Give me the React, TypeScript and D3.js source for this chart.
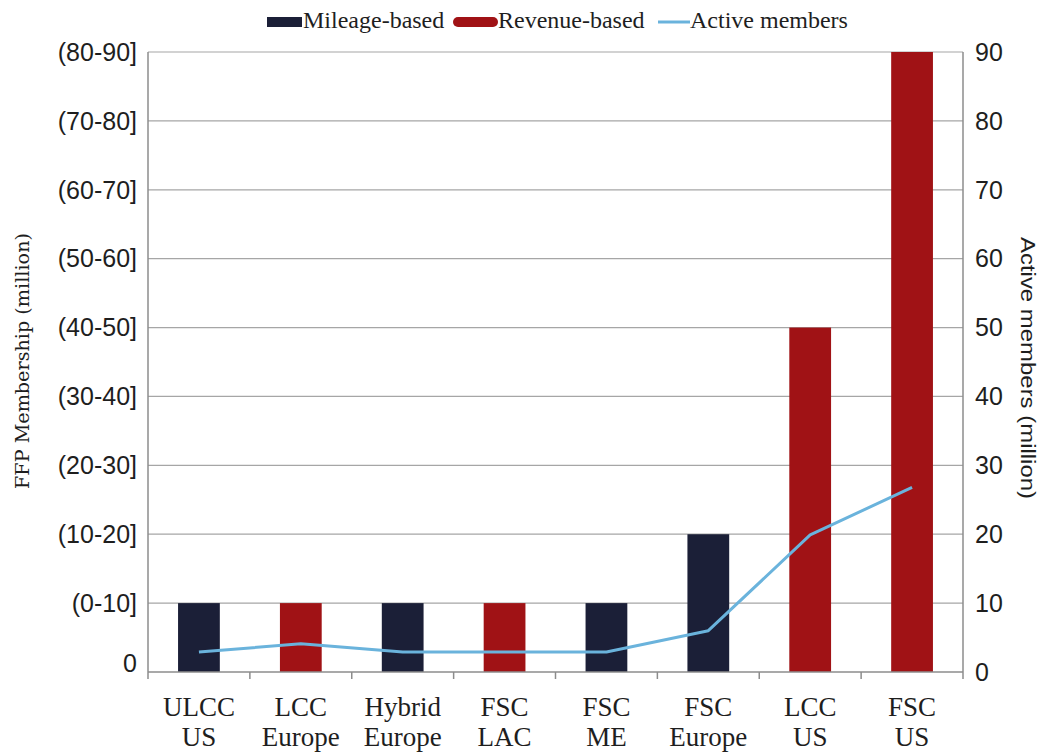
import React from "react";
import * as d3 from "d3";

const categories = [
  ["ULCC", "US"],
  ["LCC", "Europe"],
  ["Hybrid", "Europe"],
  ["FSC", "LAC"],
  ["FSC", "ME"],
  ["FSC", "Europe"],
  ["LCC", "US"],
  ["FSC", "US"],
];
// membership band (upper bound, million) and programme model
const membership = [10, 10, 10, 10, 10, 20, 50, 90];
const model = ["Mileage", "Revenue", "Mileage", "Revenue", "Mileage", "Mileage", "Revenue", "Revenue"];
// active members (million)
const activeMembers = [2.9, 4.1, 2.9, 2.9, 2.9, 6.0, 19.9, 26.8];
const leftTicks = ["0", "(0-10]", "(10-20]", "(20-30]", "(30-40]", "(40-50]", "(50-60]", "(60-70]", "(70-80]", "(80-90]"];
const rightTicks = [0, 10, 20, 30, 40, 50, 60, 70, 80, 90];

const W = 1045;
const H = 754;
const left = 148;
const right = 963;
const top = 52;
const bottom = 672;

const colors: Record<string, string> = {
  Mileage: "#1b1f37",
  Revenue: "#a01215",
};
const lineColor = "#6ab3dc";
const serif = '"Liberation Serif"';
const sans = '"Liberation Sans"';
const titleSerif = '"DejaVu Serif"';
const ink = "#1e1e1e";

export default function App() {
  const idx = categories.map((_, i) => String(i));
  const x = d3.scaleBand<string>().domain(idx).range([left, right]).padding(0);
  const y = d3.scaleLinear().domain([0, 90]).range([bottom, top]);
  const barW = x.bandwidth() * 0.41;
  const cx = (i: number) => (x(String(i)) as number) + x.bandwidth() / 2;
  const line = d3
    .line<number>()
    .x((_, i) => cx(i))
    .y((d) => y(d));

  return (
    <svg
      width={W}
      height={H}
      style={{ position: "absolute", left: 0, top: 0, background: "#fff" }}
    >
      {/* gridlines */}
      {rightTicks.slice(1).map((t) => (
        <line key={t} x1={left} x2={right} y1={y(t)} y2={y(t)} stroke="#a6a6a6" strokeWidth={1.2} />
      ))}
      {/* bars */}
      {membership.map((v, i) => (
        <rect
          key={i}
          x={cx(i) - barW / 2}
          y={y(v)}
          width={barW}
          height={y(0) - y(v)}
          fill={colors[model[i]]}
        />
      ))}
      {/* active members line */}
      <path d={line(activeMembers) || ""} fill="none" stroke={lineColor} strokeWidth={3} strokeLinejoin="round" />
      {/* axes */}
      <line x1={left} x2={left} y1={top} y2={bottom} stroke="#8c8c8c" strokeWidth={1.5} />
      <line x1={right} x2={right} y1={top} y2={bottom} stroke="#8c8c8c" strokeWidth={1.5} />
      <line x1={left} x2={right} y1={bottom} y2={bottom} stroke="#8c8c8c" strokeWidth={1.5} />
      {d3.range(categories.length + 1).map((i) => {
        const xx = left + i * x.step();
        return <line key={i} x1={xx} x2={xx} y1={bottom} y2={bottom + 7} stroke="#8c8c8c" strokeWidth={1.5} />;
      })}
      {/* left tick labels */}
      {leftTicks.map((t, i) => (
        <text
          key={t}
          x={137}
          y={y(i * 10) - (i === 0 ? 9 : 0)}
          dy="0.35em"
          textAnchor="end"
          fontSize={25}
          fill={ink}
          style={{ fontFamily: sans }}
        >
          {t}
        </text>
      ))}
      {/* right tick labels */}
      {rightTicks.map((t) => (
        <text key={t} x={975} y={y(t)} dy="0.35em" textAnchor="start" fontSize={25} fill={ink} style={{ fontFamily: sans }}>
          {t}
        </text>
      ))}
      {/* category labels */}
      {categories.map((c, i) => (
        <text key={i} x={cx(i)} textAnchor="middle" fontSize={27} fill={ink} style={{ fontFamily: serif }}>
          <tspan x={cx(i)} y={716}>{c[0]}</tspan>
          <tspan x={cx(i)} y={746}>{c[1]}</tspan>
        </text>
      ))}
      {/* axis titles */}
      <text
        transform={`translate(29,361) rotate(-90)`}
        textAnchor="middle"
        fontSize={18}
        fill={ink}
        textLength={256}
        lengthAdjust="spacingAndGlyphs"
        style={{ fontFamily: titleSerif }}
      >
        FFP Membership (million)
      </text>
      <text
        transform={`translate(1021,368) rotate(90)`}
        textAnchor="middle"
        fontSize={21}
        fill={ink}
        textLength={262}
        lengthAdjust="spacingAndGlyphs"
        style={{ fontFamily: sans }}
      >
        Active members (million)
      </text>
      {/* legend */}
      <g>
        <rect x={267} y={17} width={35} height={10} fill={colors.Mileage} />
        <text x={303} y={28} fontSize={24} fill={ink} style={{ fontFamily: serif }}>Mileage-based</text>
        <rect x={453} y={17} width={45} height={10} rx={5} fill={colors.Revenue} />
        <text x={498} y={28} fontSize={24} fill={ink} style={{ fontFamily: serif }}>Revenue-based</text>
        <line x1={658} x2={690} y1={22} y2={22} stroke={lineColor} strokeWidth={3} />
        <text x={690} y={28} fontSize={24} fill={ink} style={{ fontFamily: serif }}>Active members</text>
      </g>
    </svg>
  );
}
